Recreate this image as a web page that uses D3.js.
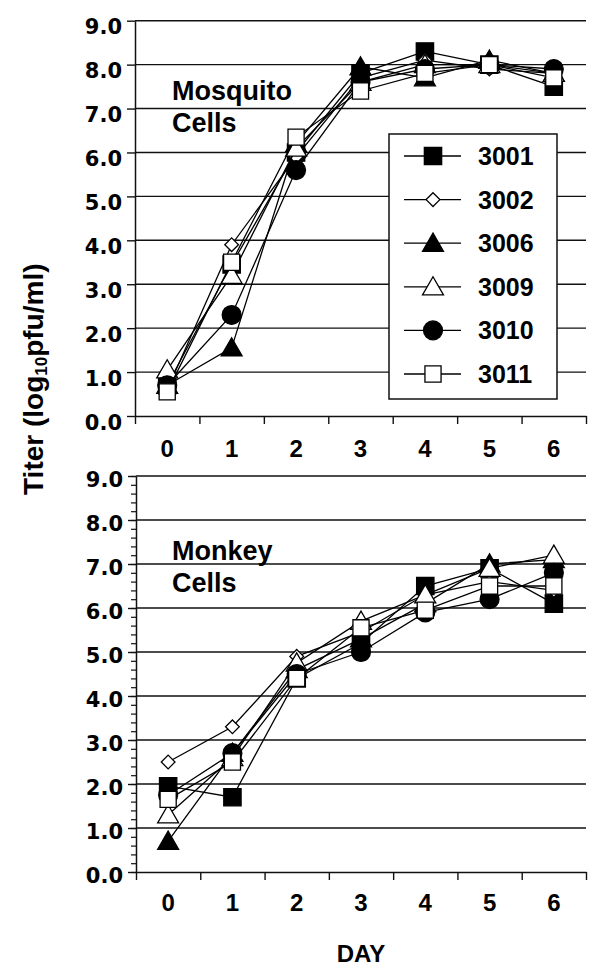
<!DOCTYPE html>
<html><head><meta charset="utf-8">
<script src="https://cdn.jsdelivr.net/npm/d3@7"></script>
<style>
html,body{margin:0;padding:0;background:#fff;}
svg{display:block;}
</style></head>
<body>
<svg id="chart" width="600" height="974"></svg>
<script>
// ---- data ----
const days = [0, 1, 2, 3, 4, 5, 6];
const seriesNames = ["3001", "3002", "3006", "3009", "3010", "3011"];
const mosquito3001 = [0.7, 3.45, 6.0, 7.8, 8.3, 8.0, 7.5];
const mosquito3002 = [0.6, 3.9, 5.9, 7.7, 8.1, 7.9, 7.8];
const mosquito3006 = [0.7, 1.55, 6.2, 7.95, 7.7, 8.1, 7.8];
const mosquito3009 = [1.05, 3.2, 6.1, 7.6, 8.0, 8.0, 7.8];
const mosquito3010 = [0.7, 2.3, 5.6, 7.6, 7.9, 8.0, 7.9];
const mosquito3011 = [0.55, 3.5, 6.35, 7.4, 7.8, 8.0, 7.7];
const monkey3001 = [1.95, 1.7, 4.4, 5.2, 6.5, 6.9, 6.1];
const monkey3002 = [2.5, 3.3, 4.9, 5.45, 6.3, 6.6, 6.4];
const monkey3006 = [0.7, 2.7, 4.6, 5.3, 6.1, 7.0, 7.1];
const monkey3009 = [1.3, 2.6, 4.75, 5.7, 6.3, 6.9, 7.2];
const monkey3010 = [1.75, 2.7, 4.5, 5.0, 5.9, 6.2, 6.8];
const monkey3011 = [1.65, 2.5, 4.4, 5.55, 5.95, 6.5, 6.5];
const yTicks = [0, 1, 2, 3, 4, 5, 6, 7, 8, 9];
const panelTitles = [["Mosquito", "Cells"], ["Monkey", "Cells"]];
const yTitle = "Titer (log";
const xTitle = "DAY";

const mosquitoSeries = [mosquito3001, mosquito3002, mosquito3006, mosquito3009, mosquito3010, mosquito3011];
const monkeySeries = [monkey3001, monkey3002, monkey3006, monkey3009, monkey3010, monkey3011];

// ---- markers ----
const markerStyles = [
  {type: d3.symbolSquare, size: 300, fill: "#000"},
  {type: d3.symbolDiamond2, size: 120, fill: "#fff"},
  {type: d3.symbolTriangle, size: 190, fill: "#000"},
  {type: d3.symbolTriangle, size: 190, fill: "#fff"},
  {type: d3.symbolCircle, size: 280, fill: "#000"},
  {type: d3.symbolSquare, size: 260, fill: "#fff"}
];

const svg = d3.select("#chart");
const FONT = "'Liberation Sans', Arial, sans-serif";
const TICKFONT = "'DejaVu Sans', sans-serif";

function drawMarker(g, i, x, y) {
  const m = markerStyles[i];
  const sym = d3.symbol().type(m.type).size(m.size);
  let dy = 0;
  if (m.type === d3.symbolTriangle) dy = 2;
  g.append("path").attr("d", sym())
    .attr("transform", `translate(${x},${y + dy})`)
    .attr("fill", m.fill).attr("stroke", "#000").attr("stroke-width", 1.3);
}

function panel(opts) {
  const {x0, x1, yBottom, yTop, series, title, titleY, minor, labelShift, xLabelY} = opts;
  const g = svg.append("g");
  const x = d3.scaleBand().domain(days).range([x0, x1]).padding(0);
  const xEdge = d3.scaleLinear().domain([-0.5, 6.5]).range([x0, x1]);
  const y = d3.scaleLinear().domain([0, 9]).range([yBottom, yTop]);

  // gridlines
  g.append("g").selectAll("line").data(yTicks.filter(d => d > 0)).join("line")
    .attr("x1", x0).attr("x2", x1)
    .attr("y1", d => y(d)).attr("y2", d => y(d))
    .attr("stroke", "#111").attr("stroke-width", 1.4);

  // minor ticks
  if (minor) {
    const minorVals = d3.range(0, 9.001, 0.2).map(v => +v.toFixed(1));
    g.append("g").attr("transform", `translate(${x0},0)`)
      .call(d3.axisLeft(y).tickValues(minorVals).tickSize(5).tickFormat(""))
      .call(a => a.select(".domain").remove())
      .selectAll("line").attr("stroke", "#111").attr("stroke-width", 1.2);
  }

  // y axis
  const ya = g.append("g").attr("transform", `translate(${x0},0)`)
    .call(d3.axisLeft(y).tickValues(yTicks).tickSize(8).tickPadding(5).tickSizeOuter(0)
      .tickFormat(d => d.toFixed(1)));
  ya.select(".domain").attr("stroke", "#111").attr("stroke-width", 1.5);
  ya.selectAll(".tick line").attr("stroke", "#111").attr("stroke-width", 1.4);
  ya.selectAll("text").attr("font-family", TICKFONT).attr("font-weight", "bold")
    .attr("font-size", 21).attr("fill", "#000").attr("dy", labelShift);

  // x axis (tick marks at band edges)
  const xa = g.append("g").attr("transform", `translate(0,${yBottom})`)
    .call(d3.axisBottom(xEdge).tickValues(d3.range(-0.5, 6.51, 1)).tickSize(8).tickSizeOuter(0).tickFormat(""));
  xa.select(".domain").attr("stroke", "#111").attr("stroke-width", 1.5);
  xa.selectAll(".tick line").attr("stroke", "#111").attr("stroke-width", 1.4);
  const xl = g.append("g").attr("transform", `translate(0,${yBottom})`)
    .call(d3.axisBottom(x).tickSize(0).tickPadding(0));
  xl.select(".domain").remove();
  xl.selectAll("text").attr("font-family", FONT).attr("font-weight", "bold")
    .attr("font-size", 24).attr("fill", "#000").attr("y", xLabelY).attr("dy", 0);

  // panel label
  const t = g.append("text").attr("x", 172).attr("y", titleY)
    .attr("font-family", FONT).attr("font-weight", "bold").attr("font-size", 27).attr("fill", "#000");
  t.append("tspan").attr("x", 172).text(title[0]);
  t.append("tspan").attr("x", 172).attr("dy", 32).text(title[1]);

  // series
  const line = d3.line().x((d, i) => x(days[i]) + x.bandwidth() / 2).y(d => y(d));
  series.forEach((vals, si) => {
    const sg = g.append("g");
    sg.append("path").attr("d", line(vals)).attr("fill", "none")
      .attr("stroke", "#000").attr("stroke-width", 1.3);
    vals.forEach((v, i) => drawMarker(sg, si, x(days[i]) + x.bandwidth() / 2, y(v)));
  });
  return {g, x, y};
}

panel({x0: 135, x1: 586, yBottom: 416, yTop: 20.7, series: mosquitoSeries,
  title: panelTitles[0], titleY: 100, minor: false, labelShift: "0.62em", xLabelY: 41});
panel({x0: 136, x1: 586, yBottom: 872, yTop: 476, series: monkeySeries,
  title: panelTitles[1], titleY: 560, minor: true, labelShift: "0.48em", xLabelY: 39});

// legend
const lg = svg.append("g");
lg.append("rect").attr("x", 389).attr("y", 134).attr("width", 168).attr("height", 265)
  .attr("fill", "#fff").attr("stroke", "#111").attr("stroke-width", 1.5);
seriesNames.forEach((name, i) => {
  const ly = 156 + i * 43.6;
  lg.append("line").attr("x1", 404).attr("x2", 461).attr("y1", ly).attr("y2", ly)
    .attr("stroke", "#000").attr("stroke-width", 1.3);
  drawMarker(lg, i, 433, ly);
  lg.append("text").attr("x", 478).attr("y", ly + 9).text(name)
    .attr("font-family", FONT).attr("font-weight", "bold").attr("font-size", 25).attr("fill", "#000");
});

// y title
const yt = svg.append("text").attr("transform", "translate(43,495) rotate(-90)")
  .attr("text-anchor", "start")
  .attr("font-family", FONT).attr("font-weight", "bold").attr("font-size", 28).attr("fill", "#000");
yt.append("tspan").text(yTitle);
yt.append("tspan").attr("font-size", 17).attr("dy", 4).text("10");
yt.append("tspan").attr("dy", -4).text("pfu/ml)");

// x title
svg.append("text").attr("x", 361).attr("y", 962).attr("text-anchor", "middle")
  .attr("font-family", FONT).attr("font-weight", "bold").attr("font-size", 24).attr("fill", "#000").text(xTitle);
</script>
</body></html>
